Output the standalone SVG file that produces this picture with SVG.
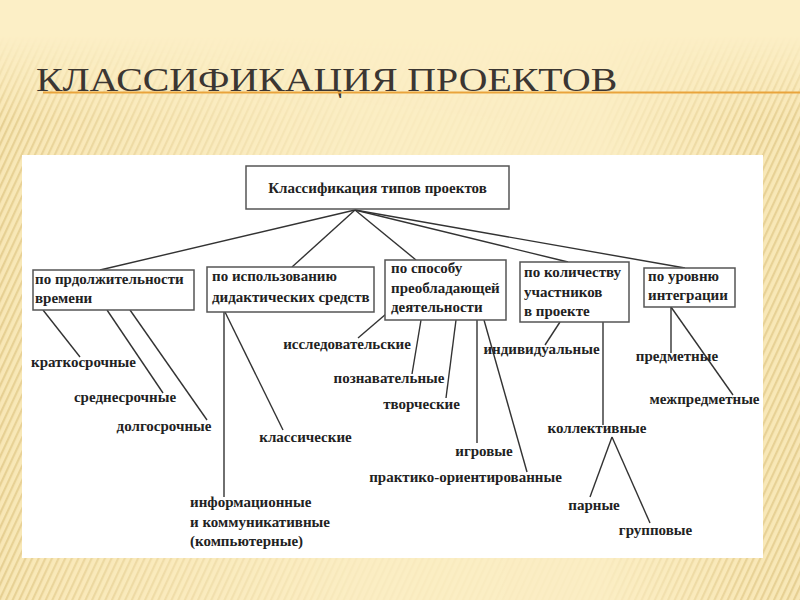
<svg xmlns="http://www.w3.org/2000/svg" width="800" height="600" viewBox="0 0 800 600">
<defs>
  <pattern id="stripes" width="6" height="6" patternUnits="userSpaceOnUse" patternTransform="rotate(25)">
    <rect width="6" height="6" fill="#F8E7B6"/>
    <rect width="2.2" height="6" fill="#E6CF92"/>
  </pattern>
  <linearGradient id="fadeH" x1="0" y1="0" x2="1" y2="0">
    <stop offset="0" stop-color="#fff" stop-opacity="1"/>
    <stop offset="0.08" stop-color="#fff" stop-opacity="0.8"/>
    <stop offset="0.45" stop-color="#fff" stop-opacity="0.15"/>
    <stop offset="0.75" stop-color="#fff" stop-opacity="0.1"/>
    <stop offset="0.93" stop-color="#fff" stop-opacity="0.9"/>
    <stop offset="1" stop-color="#fff" stop-opacity="1"/>
  </linearGradient>
  <linearGradient id="fadeV" x1="0" y1="0" x2="0" y2="1">
    <stop offset="0" stop-color="#000" stop-opacity="1"/>
    <stop offset="0.06" stop-color="#000" stop-opacity="1"/>
    <stop offset="0.2" stop-color="#000" stop-opacity="0"/>
    <stop offset="1" stop-color="#000" stop-opacity="0"/>
  </linearGradient>
  <mask id="m">
    <rect width="800" height="600" fill="url(#fadeH)"/>
    <rect width="800" height="600" fill="url(#fadeV)"/>
  </mask>
  <style>
    .box { fill: #fff; stroke: #555; stroke-width: 1.5; }
    .t { font-size: 15px; font-weight: bold; fill: #222; }
    .c { text-anchor: middle; }
    .lines line { stroke: #333; stroke-width: 1.4; }
    .title { font-size: 34px; fill: #3b3632; }
  </style>
</defs>

<rect width="800" height="600" fill="#FCEFC6"/>
<rect width="800" height="600" fill="url(#stripes)" mask="url(#m)"/>

<text class="title" font-family="Liberation Serif" style="font-family: 'Liberation Serif', serif" transform="translate(36,91) scale(1.17,1)">КЛАССИФИКАЦИЯ ПРОЕКТОВ</text>
<line x1="43" y1="92.5" x2="800" y2="92.5" stroke="#E9A43C" stroke-width="2"/>

<rect x="22" y="155" width="741" height="403" fill="#fff"/>

<g class="lines" id="connectors">
  <line x1="355" y1="210" x2="100" y2="270"/>
  <line x1="355" y1="210" x2="292" y2="267"/>
  <line x1="355" y1="210" x2="416" y2="260"/>
  <line x1="355" y1="210" x2="568" y2="262"/>
  <line x1="355" y1="210" x2="685" y2="268"/>
  <line x1="43" y1="310" x2="80" y2="357"/>
  <line x1="107" y1="310" x2="163" y2="393"/>
  <line x1="130" y1="310" x2="207" y2="420"/>
  <line x1="224" y1="312" x2="224" y2="497"/>
  <line x1="225" y1="312" x2="283" y2="430"/>
  <line x1="386" y1="314" x2="358" y2="338"/>
  <line x1="421" y1="320" x2="412" y2="374"/>
  <line x1="456" y1="320" x2="446" y2="398"/>
  <line x1="477" y1="320" x2="477" y2="443"/>
  <line x1="484" y1="320" x2="527" y2="472"/>
  <line x1="560" y1="322" x2="545" y2="345"/>
  <line x1="603" y1="322" x2="603" y2="425"/>
  <line x1="612" y1="437" x2="590" y2="497"/>
  <line x1="612" y1="437" x2="650" y2="523"/>
  <line x1="671" y1="307" x2="671" y2="353"/>
  <line x1="671" y1="307" x2="733" y2="395"/>
</g>

<g font-family="Liberation Serif" style="font-family: 'Liberation Serif', serif">
<g id="root">
  <rect class="box" x="246" y="166" width="263" height="43"/>
  <text class="t c" x="377.5" y="193">Классификация типов проектов</text>
</g>
<g id="box-duration">
  <rect class="box" x="33" y="270" width="161" height="40"/>
  <text class="t" x="35" y="284">по прдолжительности</text>
  <text class="t" x="35" y="303">времени</text>
</g>
<g id="box-means">
  <rect class="box" x="207" y="267" width="167" height="45"/>
  <text class="t" x="212" y="281">по использованию</text>
  <text class="t" x="212" y="302">дидактических средств</text>
</g>
<g id="box-activity">
  <rect class="box" x="385" y="260" width="121" height="60"/>
  <text class="t" x="391" y="273">по способу</text>
  <text class="t" x="391" y="293">преобладающей</text>
  <text class="t" x="391" y="312">деятельности</text>
</g>
<g id="box-participants">
  <rect class="box" x="520" y="262" width="109" height="60"/>
  <text class="t" x="524" y="277">по количеству</text>
  <text class="t" x="524" y="297">участников</text>
  <text class="t" x="524" y="316">в проекте</text>
</g>
<g id="box-integration">
  <rect class="box" x="644" y="268" width="91" height="39"/>
  <text class="t" x="648" y="281">по уровню</text>
  <text class="t" x="648" y="300">интеграции</text>
</g>

<g id="leaf-short"><text class="t c" x="83.5" y="367">краткосрочные</text></g>
<g id="leaf-medium"><text class="t c" x="125" y="402">среднесрочные</text></g>
<g id="leaf-long"><text class="t c" x="164" y="431">долгосрочные</text></g>
<g id="leaf-classic"><text class="t c" x="305.5" y="442">классические</text></g>
<g id="leaf-info">
  <text class="t" x="190" y="507">информационные</text>
  <text class="t" x="190" y="527">и коммуникативные</text>
  <text class="t" x="190" y="546">(компьютерные)</text>
</g>
<g id="leaf-research"><text class="t c" x="347" y="349">исследовательские</text></g>
<g id="leaf-cognitive"><text class="t c" x="389" y="383">познавательные</text></g>
<g id="leaf-creative"><text class="t c" x="421.5" y="409">творческие</text></g>
<g id="leaf-game"><text class="t c" x="484" y="456">игровые</text></g>
<g id="leaf-practice"><text class="t c" x="465.5" y="482">практико-ориентированные</text></g>
<g id="leaf-individual"><text class="t c" x="541.5" y="354">индивидуальные</text></g>
<g id="leaf-collective"><text class="t c" x="597" y="433">коллективные</text></g>
<g id="leaf-pair"><text class="t c" x="594" y="510">парные</text></g>
<g id="leaf-group"><text class="t c" x="655.5" y="535">групповые</text></g>
<g id="leaf-subject"><text class="t c" x="677" y="361">предметные</text></g>
<g id="leaf-inter"><text class="t c" x="704.5" y="404">межпредметные</text></g>
</g>
</svg>
